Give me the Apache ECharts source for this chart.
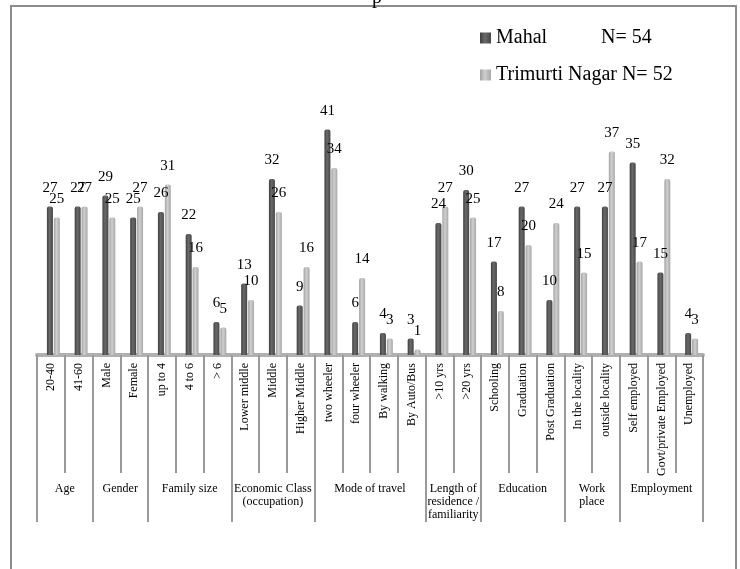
<!DOCTYPE html>
<html>
<head>
<meta charset="utf-8">
<script src="https://cdn.jsdelivr.net/npm/echarts@6/dist/echarts.min.js"></script>
<style>
html,body{margin:0;padding:0;background:#fff;}
#chart{width:740px;height:569px;}
</style>
</head>
<body>
<div id="chart"></div>
<script>
// ---- data ----
const categories = ['20-40','41-60','Male','Female','up to 4','4 to 6','> 6','Lower middle','Middle','Higher Middle','two wheeler','four wheeler','By walking','By Auto/Bus','>10 yrs','>20 yrs','Schooling','Graduation','Post Graduation','In the locality','outside locality','Self employed','Govt/private Employed','Unemployed'];
const mahal    = [27,27,29,25,26,22,6,13,32,9,41,6,4,3,24,30,17,27,10,27,27,35,15,4];
const trimurti = [25,27,25,27,31,16,5,10,26,16,34,14,3,1,27,25,8,20,24,15,37,17,32,3];
const groups = ['Age','Gender','Family size','Economic Class\n(occupation)','Mode of travel','Length of\nresidence /\nfamiliarity','Education','Work\nplace','Employment'];
const groupSizes = [2,2,3,3,4,2,3,2,3];
const seriesNames = ['Mahal','Trimurti Nagar'];
const sampleN = [54,52];

// ---- derived group boundaries/centers ----
const boundaries = [0];
const centers = [];
groupSizes.forEach(n => {
  const start = boundaries[boundaries.length - 1];
  centers.push(start + n / 2);
  boundaries.push(start + n);
});

const FONT = "'Liberation Serif','Times New Roman',serif";
const chart = echarts.init(document.getElementById('chart'), null, {renderer: 'canvas'});

const barCommon = {
  type: 'bar',
  xAxisIndex: 0,
  yAxisIndex: 0,
  barWidth: 6,
  barGap: '15%',
  label: {show: true, position: 'top', distance: 11, fontFamily: FONT, fontSize: 15, color: '#000'}
};

chart.setOption({
  animation: false,
  backgroundColor: '#fff',
  title: {
    text: 'p', left: 367, top: -17,
    textStyle: {fontFamily: FONT, fontSize: 20, fontWeight: 'normal', color: '#000'}
  },
  graphic: [{
    type: 'rect', z: -1,
    shape: {x: 11, y: 6, width: 725, height: 620},
    style: {fill: 'none', stroke: '#8c8c8c', lineWidth: 2}
  }],
  legend: {
    orient: 'vertical', left: 475, top: 23,
    itemWidth: 11, itemHeight: 11, itemGap: 17, icon: 'rect',
    textStyle: {
      fontFamily: FONT, fontSize: 20, color: '#000', lineHeight: 20,
      rich: {n: {fontFamily: FONT, fontSize: 20, width: 105, color: '#000'}}
    },
    formatter: name => {
      const i = seriesNames.indexOf(name);
      return i === 0 ? '{n|' + name + '}N= ' + sampleN[i] : name + ' N= ' + sampleN[i];
    },
    data: seriesNames
  },
  grid: [
    {left: 39.5, width: 666, top: 80, bottom: 214, containLabel: false},
    {left: 37, width: 666, top: 80, bottom: 214, containLabel: false}
  ],
  xAxis: [
    {type: 'category', gridIndex: 0, data: categories, axisLine: {show: false}, axisTick: {show: false}, axisLabel: {show: false}},
    {
      type: 'category', gridIndex: 1, data: categories, position: 'bottom',
      axisLine: {show: true, lineStyle: {color: '#b0b0b0', width: 4}},
      axisTick: {show: true, interval: 0, length: 118, lineStyle: {color: '#9a9a9a', width: 2}},
      axisLabel: {show: true, interval: 0, rotate: 90, margin: 8, fontFamily: FONT, fontSize: 12, color: '#000'}
    },
    {
      type: 'value', gridIndex: 1, position: 'bottom', offset: 0, min: 0, max: categories.length,
      axisLine: {show: false}, splitLine: {show: false},
      axisTick: {show: true, customValues: boundaries, length: 167, lineStyle: {color: '#9a9a9a', width: 2}},
      axisLabel: {
        show: true, customValues: centers, margin: 127,
        fontFamily: FONT, fontSize: 12, lineHeight: 13, color: '#000', align: 'center',
        formatter: v => {
          const i = centers.findIndex(c => Math.abs(c - v) < 1e-6);
          return i >= 0 ? groups[i] : '';
        }
      }
    }
  ],
  yAxis: [
    {type: 'value', gridIndex: 0, min: 0, max: 50, show: false, splitLine: {show: false}},
    {type: 'value', gridIndex: 1, min: 0, max: 50, show: false, splitLine: {show: false}}
  ],
  series: [
    Object.assign({}, barCommon, {
      name: seriesNames[0], data: mahal,
      itemStyle: {
        color: new echarts.graphic.LinearGradient(0, 0, 1, 0, [
          {offset: 0, color: '#3f3f3f'}, {offset: 0.45, color: '#6a6a6a'}, {offset: 1, color: '#454545'}
        ]),
        borderRadius: [2, 2, 0, 0]
      }
    }),
    Object.assign({}, barCommon, {
      name: seriesNames[1], data: trimurti,
      itemStyle: {
        color: new echarts.graphic.LinearGradient(0, 0, 1, 0, [
          {offset: 0, color: '#a2a2a2'}, {offset: 0.45, color: '#cfcfcf'}, {offset: 1, color: '#a8a8a8'}
        ]),
        borderRadius: [2, 2, 0, 0]
      }
    })
  ]
});
</script>
</body>
</html>
